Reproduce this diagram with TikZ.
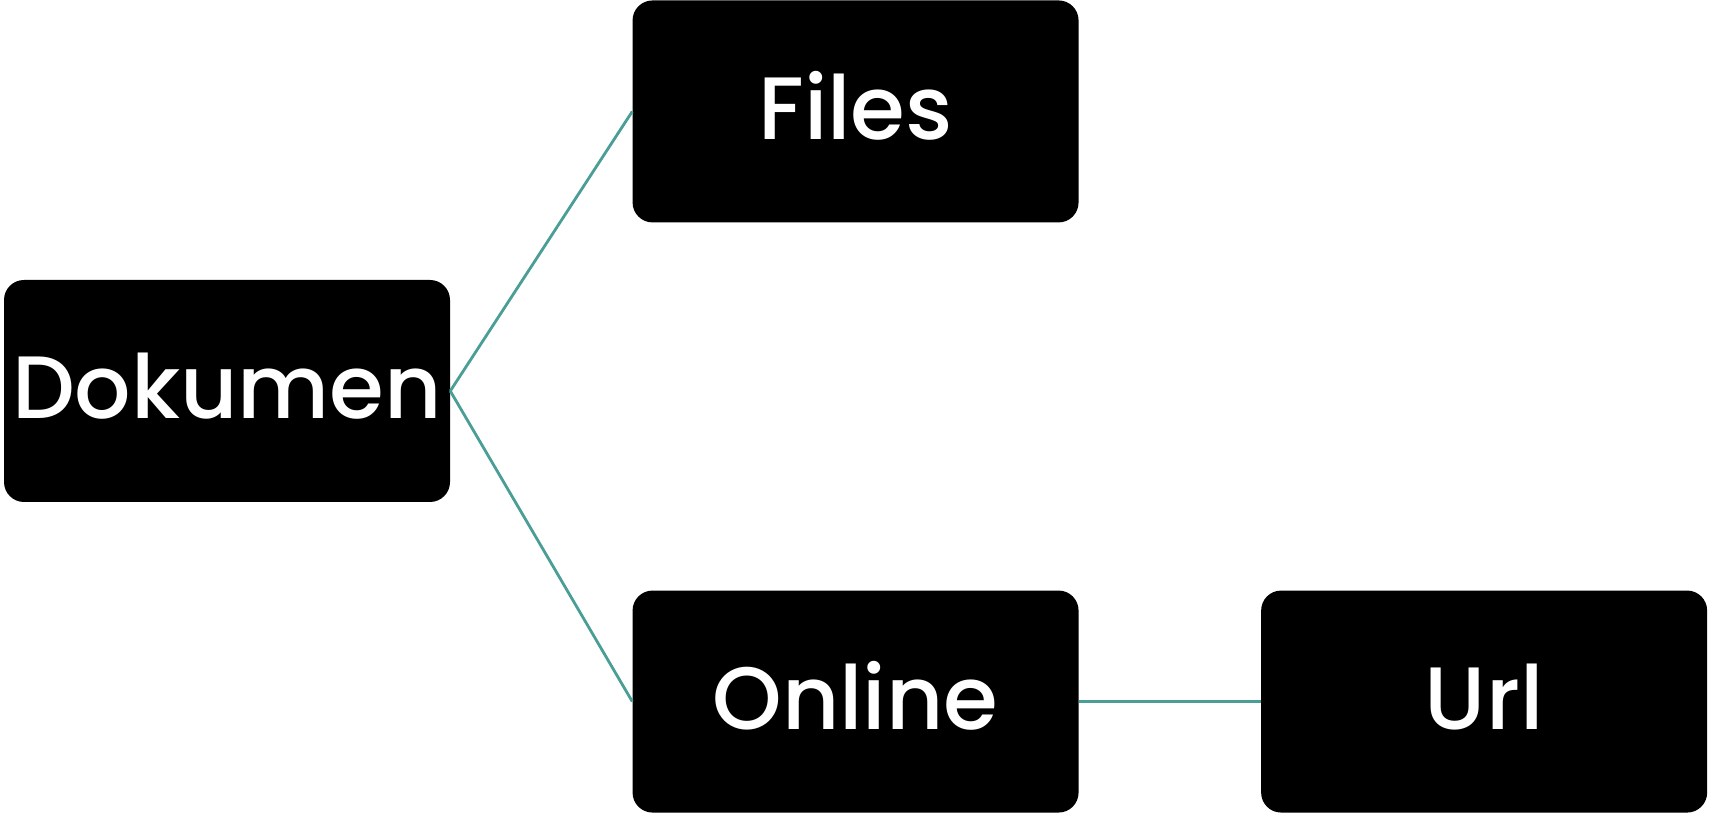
\documentclass[tikz,border=0pt]{standalone}
\usepackage{fontspec}
\setmainfont{Poppins}[FontFace={mb}{n}{Font=* Medium}]
\usetikzlibrary{positioning}
\definecolor{linkteal}{RGB}{74,158,150}

\begin{document}
\begin{tikzpicture}[-,auto,node distance=4.55cm,
  main node/.style={rectangle,rounded corners=0.5cm,fill=black,text=white,
    minimum width=11.15cm,minimum height=5.55cm,inner sep=0pt,
    text height=1.4cm,text depth=0cm,
    font=\fontsize{63}{70}\fontseries{mb}\selectfont}]

  \useasboundingbox (0,0) rectangle (42.725,20.35);

  \node[main node] (1) at (5.675,10.575) {Dokumen};
  \node[main node] (2) [above right=1.425cm and 4.55cm of 1.north east, anchor=south west] {Files};
  \node[main node] (3) [below right=2.2cm and 4.55cm of 1.south east, anchor=north west] {Online};
  \node[main node] (4) [right=of 3] {Url};

  \path[draw=linkteal,line width=2pt]
    (1.east) edge (2.west)
             edge (3.west)
    (3.east) edge (4.west);
\end{tikzpicture}
\end{document}
